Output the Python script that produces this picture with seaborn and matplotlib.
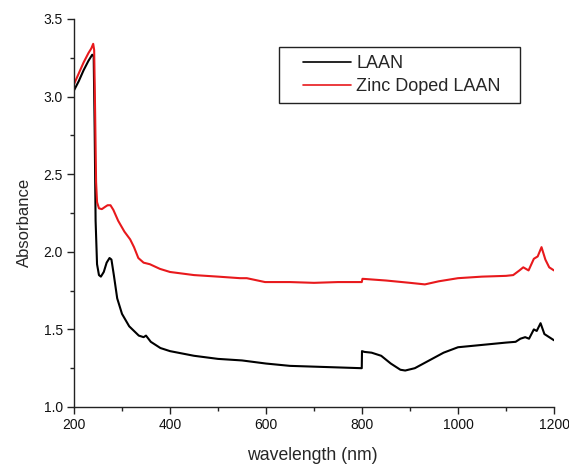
import numpy as np
import pandas as pd
import matplotlib
matplotlib.use("Agg")
import matplotlib.pyplot as plt
import seaborn as sns
from matplotlib.ticker import MultipleLocator
from matplotlib.lines import Line2D
from matplotlib.legend_handler import HandlerLine2D

# ---- data ----
laan_w = [200, 210, 220, 230, 238, 241, 243, 245, 248, 252, 256, 262, 268, 274, 278,
          283, 290, 300, 315, 335, 345, 350, 360, 380, 400, 450, 500, 550, 600, 650,
          700, 750, 799.5, 800, 805, 820, 840, 860, 880, 890, 910, 940, 970, 1000,
          1050, 1100, 1120, 1130, 1140, 1148, 1158, 1164, 1172, 1180, 1190, 1200]
laan_a = [3.04, 3.10, 3.17, 3.23, 3.27, 3.26, 2.80, 2.20, 1.92, 1.85, 1.84, 1.87, 1.93,
          1.96, 1.95, 1.85, 1.70, 1.60, 1.52, 1.46, 1.45, 1.46, 1.42, 1.38, 1.36, 1.33,
          1.31, 1.30, 1.28, 1.265, 1.26, 1.255, 1.25, 1.36, 1.355, 1.35, 1.33, 1.28, 1.24,
          1.235, 1.25, 1.30, 1.35, 1.385, 1.40, 1.415, 1.42, 1.44, 1.45, 1.44, 1.50, 1.49,
          1.54, 1.47, 1.45, 1.43]

zinc_w = [200, 210, 220, 230, 236, 240, 242, 244, 246, 248, 252, 258, 265, 270, 276,
          282, 292, 305, 317, 325, 334, 345, 358, 379, 400, 450, 500, 546, 560, 598,
          650, 700, 750, 799.5, 801, 850, 900, 931, 960, 1000, 1050, 1100, 1115, 1128,
          1136, 1147, 1158, 1166, 1174, 1182, 1190, 1200]
zinc_a = [3.08, 3.15, 3.22, 3.28, 3.31, 3.34, 3.30, 2.90, 2.45, 2.32, 2.28, 2.275, 2.29,
          2.30, 2.30, 2.27, 2.20, 2.13, 2.08, 2.03, 1.96, 1.93, 1.92, 1.89, 1.87, 1.85,
          1.84, 1.83, 1.83, 1.805, 1.805, 1.80, 1.805, 1.805, 1.826, 1.815, 1.80, 1.79,
          1.81, 1.83, 1.84, 1.845, 1.85, 1.88, 1.90, 1.88, 1.955, 1.97, 2.03, 1.95, 1.90,
          1.88]

series_names = ["LAAN", "Zinc Doped LAAN"]
x_ticks = [200, 400, 600, 800, 1000, 1200]
y_ticks = [1.0, 1.5, 2.0, 2.5, 3.0, 3.5]

df = pd.concat([
    pd.DataFrame({"wavelength": laan_w, "absorbance": laan_a, "sample": series_names[0]}),
    pd.DataFrame({"wavelength": zinc_w, "absorbance": zinc_a, "sample": series_names[1]}),
])


class ShiftedLineHandler(HandlerLine2D):
    """Legend line drawn only in the right part of the handle box."""
    def __init__(self, shift_frac, **kw):
        super().__init__(**kw)
        self.shift_frac = shift_frac

    def get_xdata(self, legend, xdescent, ydescent, width, height, fontsize):
        xdata, xm = super().get_xdata(legend, xdescent, ydescent, width, height, fontsize)
        xdata = np.asarray(xdata, dtype=float)
        xdata = np.linspace(xdata[0] + self.shift_frac * width, xdata[-1], len(xdata))
        return xdata, xm


sns.set_style("ticks")
plt.rcParams["font.family"] = ["Liberation Sans", "DejaVu Sans"]

fig = plt.figure(figsize=(5.69, 4.66), dpi=100)
ax = fig.add_axes([74 / 569, 1 - 407 / 466, 480 / 569, 388 / 466])

sns.lineplot(data=df, x="wavelength", y="absorbance", hue="sample",
             palette={series_names[0]: "#000000", series_names[1]: "#e8191c"},
             estimator=None, sort=True, linewidth=1.5, ax=ax)

ax.set_xlim(200, 1200)
ax.set_ylim(1.0, 3.5)
ax.set_xticks(x_ticks)
ax.set_yticks(y_ticks)
ax.set_yticklabels([f"{v:.1f}" for v in y_ticks])
ax.xaxis.set_minor_locator(MultipleLocator(100))
ax.yaxis.set_minor_locator(MultipleLocator(0.25))
ax.tick_params(which="major", direction="out", length=5, width=1, labelsize=10,
               color="#222222", labelcolor="#111111", pad=3)
ax.tick_params(which="minor", direction="out", length=3, width=1, color="#222222")
for s in ["top", "right"]:
    ax.spines[s].set_visible(False)
for s in ["left", "bottom"]:
    ax.spines[s].set_linewidth(1)
    ax.spines[s].set_color("#222222")

ax.set_xlabel("wavelength (nm)", fontsize=12.7)
ax.set_ylabel("Absorbance", fontsize=12)
ax.xaxis.set_label_coords(0.497, -0.103)
ax.yaxis.set_label_coords(-0.088, 0.4755)

leg = ax.legend(loc="upper left", mode="expand",
                bbox_to_anchor=((279.3 - 74) / 480, 0.3, 240.7 / 480, (407 - 47.3) / 388 - 0.3),
                borderaxespad=0, fontsize=13, handlelength=3.54, handletextpad=0.28,
                fancybox=False, framealpha=1, edgecolor="#222222",
                borderpad=0.45, labelspacing=0.3, title=None,
                handler_map={Line2D: ShiftedLineHandler(16 / 64)})
leg.get_frame().set_linewidth(1)
for ln in leg.get_lines():
    ln.set_linewidth(1.2)

fig.savefig("out.png", dpi=100)
